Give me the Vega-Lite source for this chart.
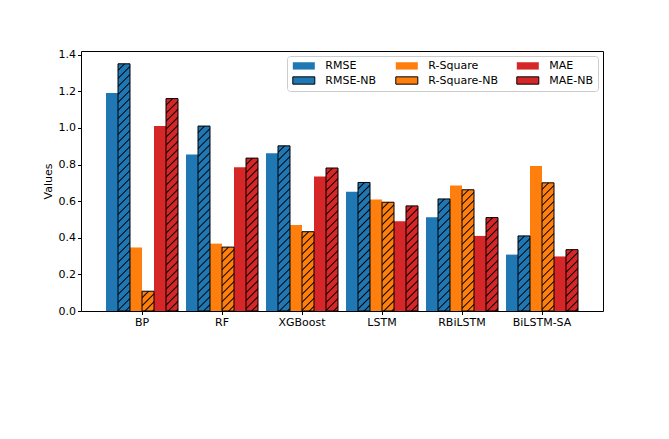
{
  "$schema": "https://vega.github.io/schema/vega-lite/v6.json",
  "width": 522,
  "height": 260,
  "autosize": {"type": "none"},
  "padding": {"left": 81, "top": 51, "right": 66, "bottom": 128},
  "background": "white",
  "params": [
    {"name": "hatchStops", "value": [
      {"offset":0,"color":"rgba(0,0,0,0)"},{"offset":0.01625,"color":"rgba(0,0,0,0)"},{"offset":0.0205,"color":"#000"},
      {"offset":0.025,"color":"rgba(0,0,0,0)"},{"offset":0.04125,"color":"rgba(0,0,0,0)"},{"offset":0.0455,"color":"#000"},
      {"offset":0.05,"color":"rgba(0,0,0,0)"},{"offset":0.06625,"color":"rgba(0,0,0,0)"},{"offset":0.0705,"color":"#000"},
      {"offset":0.075,"color":"rgba(0,0,0,0)"},{"offset":0.09125,"color":"rgba(0,0,0,0)"},{"offset":0.0955,"color":"#000"},
      {"offset":0.1,"color":"rgba(0,0,0,0)"},{"offset":0.11625,"color":"rgba(0,0,0,0)"},{"offset":0.1205,"color":"#000"},
      {"offset":0.125,"color":"rgba(0,0,0,0)"},{"offset":0.14125,"color":"rgba(0,0,0,0)"},{"offset":0.1455,"color":"#000"},
      {"offset":0.15,"color":"rgba(0,0,0,0)"},{"offset":0.16625,"color":"rgba(0,0,0,0)"},{"offset":0.1705,"color":"#000"},
      {"offset":0.175,"color":"rgba(0,0,0,0)"},{"offset":0.19125,"color":"rgba(0,0,0,0)"},{"offset":0.1955,"color":"#000"},
      {"offset":0.2,"color":"rgba(0,0,0,0)"},{"offset":0.21625,"color":"rgba(0,0,0,0)"},{"offset":0.2205,"color":"#000"},
      {"offset":0.225,"color":"rgba(0,0,0,0)"},{"offset":0.24125,"color":"rgba(0,0,0,0)"},{"offset":0.2455,"color":"#000"},
      {"offset":0.25,"color":"rgba(0,0,0,0)"},{"offset":0.26625,"color":"rgba(0,0,0,0)"},{"offset":0.2705,"color":"#000"},
      {"offset":0.275,"color":"rgba(0,0,0,0)"},{"offset":0.29125,"color":"rgba(0,0,0,0)"},{"offset":0.2955,"color":"#000"},
      {"offset":0.3,"color":"rgba(0,0,0,0)"},{"offset":0.31625,"color":"rgba(0,0,0,0)"},{"offset":0.3205,"color":"#000"},
      {"offset":0.325,"color":"rgba(0,0,0,0)"},{"offset":0.34125,"color":"rgba(0,0,0,0)"},{"offset":0.3455,"color":"#000"},
      {"offset":0.35,"color":"rgba(0,0,0,0)"},{"offset":0.36625,"color":"rgba(0,0,0,0)"},{"offset":0.3705,"color":"#000"},
      {"offset":0.375,"color":"rgba(0,0,0,0)"},{"offset":0.39125,"color":"rgba(0,0,0,0)"},{"offset":0.3955,"color":"#000"},
      {"offset":0.4,"color":"rgba(0,0,0,0)"},{"offset":0.41625,"color":"rgba(0,0,0,0)"},{"offset":0.4205,"color":"#000"},
      {"offset":0.425,"color":"rgba(0,0,0,0)"},{"offset":0.44125,"color":"rgba(0,0,0,0)"},{"offset":0.4455,"color":"#000"},
      {"offset":0.45,"color":"rgba(0,0,0,0)"},{"offset":0.46625,"color":"rgba(0,0,0,0)"},{"offset":0.4705,"color":"#000"},
      {"offset":0.475,"color":"rgba(0,0,0,0)"},{"offset":0.49125,"color":"rgba(0,0,0,0)"},{"offset":0.4955,"color":"#000"},
      {"offset":0.5,"color":"rgba(0,0,0,0)"},{"offset":0.51625,"color":"rgba(0,0,0,0)"},{"offset":0.5205,"color":"#000"},
      {"offset":0.525,"color":"rgba(0,0,0,0)"},{"offset":0.54125,"color":"rgba(0,0,0,0)"},{"offset":0.5455,"color":"#000"},
      {"offset":0.55,"color":"rgba(0,0,0,0)"},{"offset":0.56625,"color":"rgba(0,0,0,0)"},{"offset":0.5705,"color":"#000"},
      {"offset":0.575,"color":"rgba(0,0,0,0)"},{"offset":0.59125,"color":"rgba(0,0,0,0)"},{"offset":0.5955,"color":"#000"},
      {"offset":0.6,"color":"rgba(0,0,0,0)"},{"offset":0.61625,"color":"rgba(0,0,0,0)"},{"offset":0.6205,"color":"#000"},
      {"offset":0.625,"color":"rgba(0,0,0,0)"},{"offset":0.64125,"color":"rgba(0,0,0,0)"},{"offset":0.6455,"color":"#000"},
      {"offset":0.65,"color":"rgba(0,0,0,0)"},{"offset":0.66625,"color":"rgba(0,0,0,0)"},{"offset":0.6705,"color":"#000"},
      {"offset":0.675,"color":"rgba(0,0,0,0)"},{"offset":0.69125,"color":"rgba(0,0,0,0)"},{"offset":0.6955,"color":"#000"},
      {"offset":0.7,"color":"rgba(0,0,0,0)"},{"offset":0.71625,"color":"rgba(0,0,0,0)"},{"offset":0.7205,"color":"#000"},
      {"offset":0.725,"color":"rgba(0,0,0,0)"},{"offset":0.74125,"color":"rgba(0,0,0,0)"},{"offset":0.7455,"color":"#000"},
      {"offset":0.75,"color":"rgba(0,0,0,0)"},{"offset":0.76625,"color":"rgba(0,0,0,0)"},{"offset":0.7705,"color":"#000"},
      {"offset":0.775,"color":"rgba(0,0,0,0)"},{"offset":0.79125,"color":"rgba(0,0,0,0)"},{"offset":0.7955,"color":"#000"},
      {"offset":0.8,"color":"rgba(0,0,0,0)"},{"offset":0.81625,"color":"rgba(0,0,0,0)"},{"offset":0.8205,"color":"#000"},
      {"offset":0.825,"color":"rgba(0,0,0,0)"},{"offset":0.84125,"color":"rgba(0,0,0,0)"},{"offset":0.8455,"color":"#000"},
      {"offset":0.85,"color":"rgba(0,0,0,0)"},{"offset":0.86625,"color":"rgba(0,0,0,0)"},{"offset":0.8705,"color":"#000"},
      {"offset":0.875,"color":"rgba(0,0,0,0)"},{"offset":0.89125,"color":"rgba(0,0,0,0)"},{"offset":0.8955,"color":"#000"},
      {"offset":0.9,"color":"rgba(0,0,0,0)"},{"offset":0.91625,"color":"rgba(0,0,0,0)"},{"offset":0.9205,"color":"#000"},
      {"offset":0.925,"color":"rgba(0,0,0,0)"},{"offset":0.94125,"color":"rgba(0,0,0,0)"},{"offset":0.9455,"color":"#000"},
      {"offset":0.95,"color":"rgba(0,0,0,0)"},{"offset":0.96625,"color":"rgba(0,0,0,0)"},{"offset":0.9705,"color":"#000"},
      {"offset":0.975,"color":"rgba(0,0,0,0)"},{"offset":0.99125,"color":"rgba(0,0,0,0)"},{"offset":0.9955,"color":"#000"},
      {"offset":1,"color":"rgba(0,0,0,0)"}
    ]}
  ],
  "data": {"values": [
    {"model":"BP","series":"RMSE","value":1.19},
    {"model":"BP","series":"RMSE-NB","value":1.35},
    {"model":"BP","series":"R-Square","value":0.347},
    {"model":"BP","series":"R-Square-NB","value":0.108},
    {"model":"BP","series":"MAE","value":1.01},
    {"model":"BP","series":"MAE-NB","value":1.16},
    {"model":"RF","series":"RMSE","value":0.855},
    {"model":"RF","series":"RMSE-NB","value":1.01},
    {"model":"RF","series":"R-Square","value":0.368},
    {"model":"RF","series":"R-Square-NB","value":0.349},
    {"model":"RF","series":"MAE","value":0.785},
    {"model":"RF","series":"MAE-NB","value":0.835},
    {"model":"XGBoost","series":"RMSE","value":0.862},
    {"model":"XGBoost","series":"RMSE-NB","value":0.902},
    {"model":"XGBoost","series":"R-Square","value":0.47},
    {"model":"XGBoost","series":"R-Square-NB","value":0.433},
    {"model":"XGBoost","series":"MAE","value":0.735},
    {"model":"XGBoost","series":"MAE-NB","value":0.781},
    {"model":"LSTM","series":"RMSE","value":0.651},
    {"model":"LSTM","series":"RMSE-NB","value":0.702},
    {"model":"LSTM","series":"R-Square","value":0.609},
    {"model":"LSTM","series":"R-Square-NB","value":0.594},
    {"model":"LSTM","series":"MAE","value":0.49},
    {"model":"LSTM","series":"MAE-NB","value":0.574},
    {"model":"RBiLSTM","series":"RMSE","value":0.512},
    {"model":"RBiLSTM","series":"RMSE-NB","value":0.612},
    {"model":"RBiLSTM","series":"R-Square","value":0.686},
    {"model":"RBiLSTM","series":"R-Square-NB","value":0.662},
    {"model":"RBiLSTM","series":"MAE","value":0.41},
    {"model":"RBiLSTM","series":"MAE-NB","value":0.51},
    {"model":"BiLSTM-SA","series":"RMSE","value":0.308},
    {"model":"BiLSTM-SA","series":"RMSE-NB","value":0.41},
    {"model":"BiLSTM-SA","series":"R-Square","value":0.792},
    {"model":"BiLSTM-SA","series":"R-Square-NB","value":0.7},
    {"model":"BiLSTM-SA","series":"MAE","value":0.298},
    {"model":"BiLSTM-SA","series":"MAE-NB","value":0.335}
  ]},
  "encoding": {
    "x": {
      "field": "model", "type": "nominal", "sort": null,
      "scale": {"paddingInner": 0.1, "paddingOuter": 0.3125},
      "axis": {"title": null, "labelAngle": 0, "domain": false, "tickColor": "black", "tickSize": 3.5, "labelPadding": 2, "labelFont": "DejaVu Sans", "labelFontSize": 11, "labelColor": "black"}
    },
    "xOffset": {
      "field": "series", "type": "nominal",
      "scale": {"domain": ["RMSE","RMSE-NB","R-Square","R-Square-NB","MAE","MAE-NB"], "paddingInner": 0, "paddingOuter": 0}
    },
    "y": {
      "field": "value", "type": "quantitative",
      "scale": {"domain": [0, 1.42], "nice": false, "zero": true},
      "axis": {"title": "Values", "values": [0,0.2,0.4,0.6,0.8,1.0,1.2,1.4], "format": ".1f", "grid": false, "domain": false, "tickColor": "black", "tickSize": 3.5, "labelPadding": 2, "labelFont": "DejaVu Sans", "labelFontSize": 11, "labelColor": "black", "titleFont": "DejaVu Sans", "titleFontSize": 11, "titleFontWeight": "normal", "titleColor": "black", "titlePadding": 5}
    }
  },
  "layer": [
    {
      "mark": {"type": "bar"},
      "encoding": {
        "fill": {
          "field": "series", "type": "nominal",
          "scale": {"domain": ["RMSE","RMSE-NB","R-Square","R-Square-NB","MAE","MAE-NB"], "range": ["#1f77b4","#1f77b4","#ff7f0e","#ff7f0e","#d62728","#d62728"]},
          "legend": {
            "title": null, "orient": "top-right", "offset": 5, "columns": 3,
            "fillColor": "white", "strokeColor": "#cccccc", "cornerRadius": 3, "padding": 4,
            "labelFont": "DejaVu Sans", "labelFontSize": 11, "labelColor": "black",
            "columnPadding": 16, "rowPadding": 2,
            "symbolType": "M-3,-1H3V1H-3Z", "symbolSize": 53.8, "symbolOffset": 7.3, "labelOffset": 16,
            "encode": {
              "symbols": {"update": {
                "fill": {"signal": "indexof(datum.value,'-NB')>=0 ? {gradient:'linear',x1:0,y1:0,x2:1.31,y2:0.435,stops:[{offset:0,color:scale('fill',datum.value)},{offset:0.17,color:scale('fill',datum.value)},{offset:0.21,color:'#000'},{offset:0.25,color:scale('fill',datum.value)},{offset:0.42,color:scale('fill',datum.value)},{offset:0.46,color:'#000'},{offset:0.5,color:scale('fill',datum.value)},{offset:0.67,color:scale('fill',datum.value)},{offset:0.71,color:'#000'},{offset:0.75,color:scale('fill',datum.value)},{offset:0.92,color:scale('fill',datum.value)},{offset:0.96,color:'#000'},{offset:1,color:scale('fill',datum.value)}]} : scale('fill',datum.value)"},
                "stroke": {"signal": "indexof(datum.value,'-NB')>=0 ? 'black' : 'transparent'"},
                "strokeWidth": {"value": 1},
                "opacity": {"value": 1}
              }}
            }
          }
        }
      }
    },
    {
      "transform": [{"filter": "indexof(datum.series,'-NB')>=0"}],
      "mark": {"type": "bar", "stroke": "black", "strokeWidth": 1},
      "encoding": {
        "fill": {"value": {"expr": "{gradient:'linear', x1:0, y1:0, x2: 3840/(pow(datum.value*183.1,2)+144), y2: 320*datum.value*183.1/(pow(datum.value*183.1,2)+144), stops: hatchStops}"}}
      }
    }
  ],
  "config": {
    "view": {"stroke": "black", "strokeWidth": 1},
    "font": "DejaVu Sans"
  }
}
